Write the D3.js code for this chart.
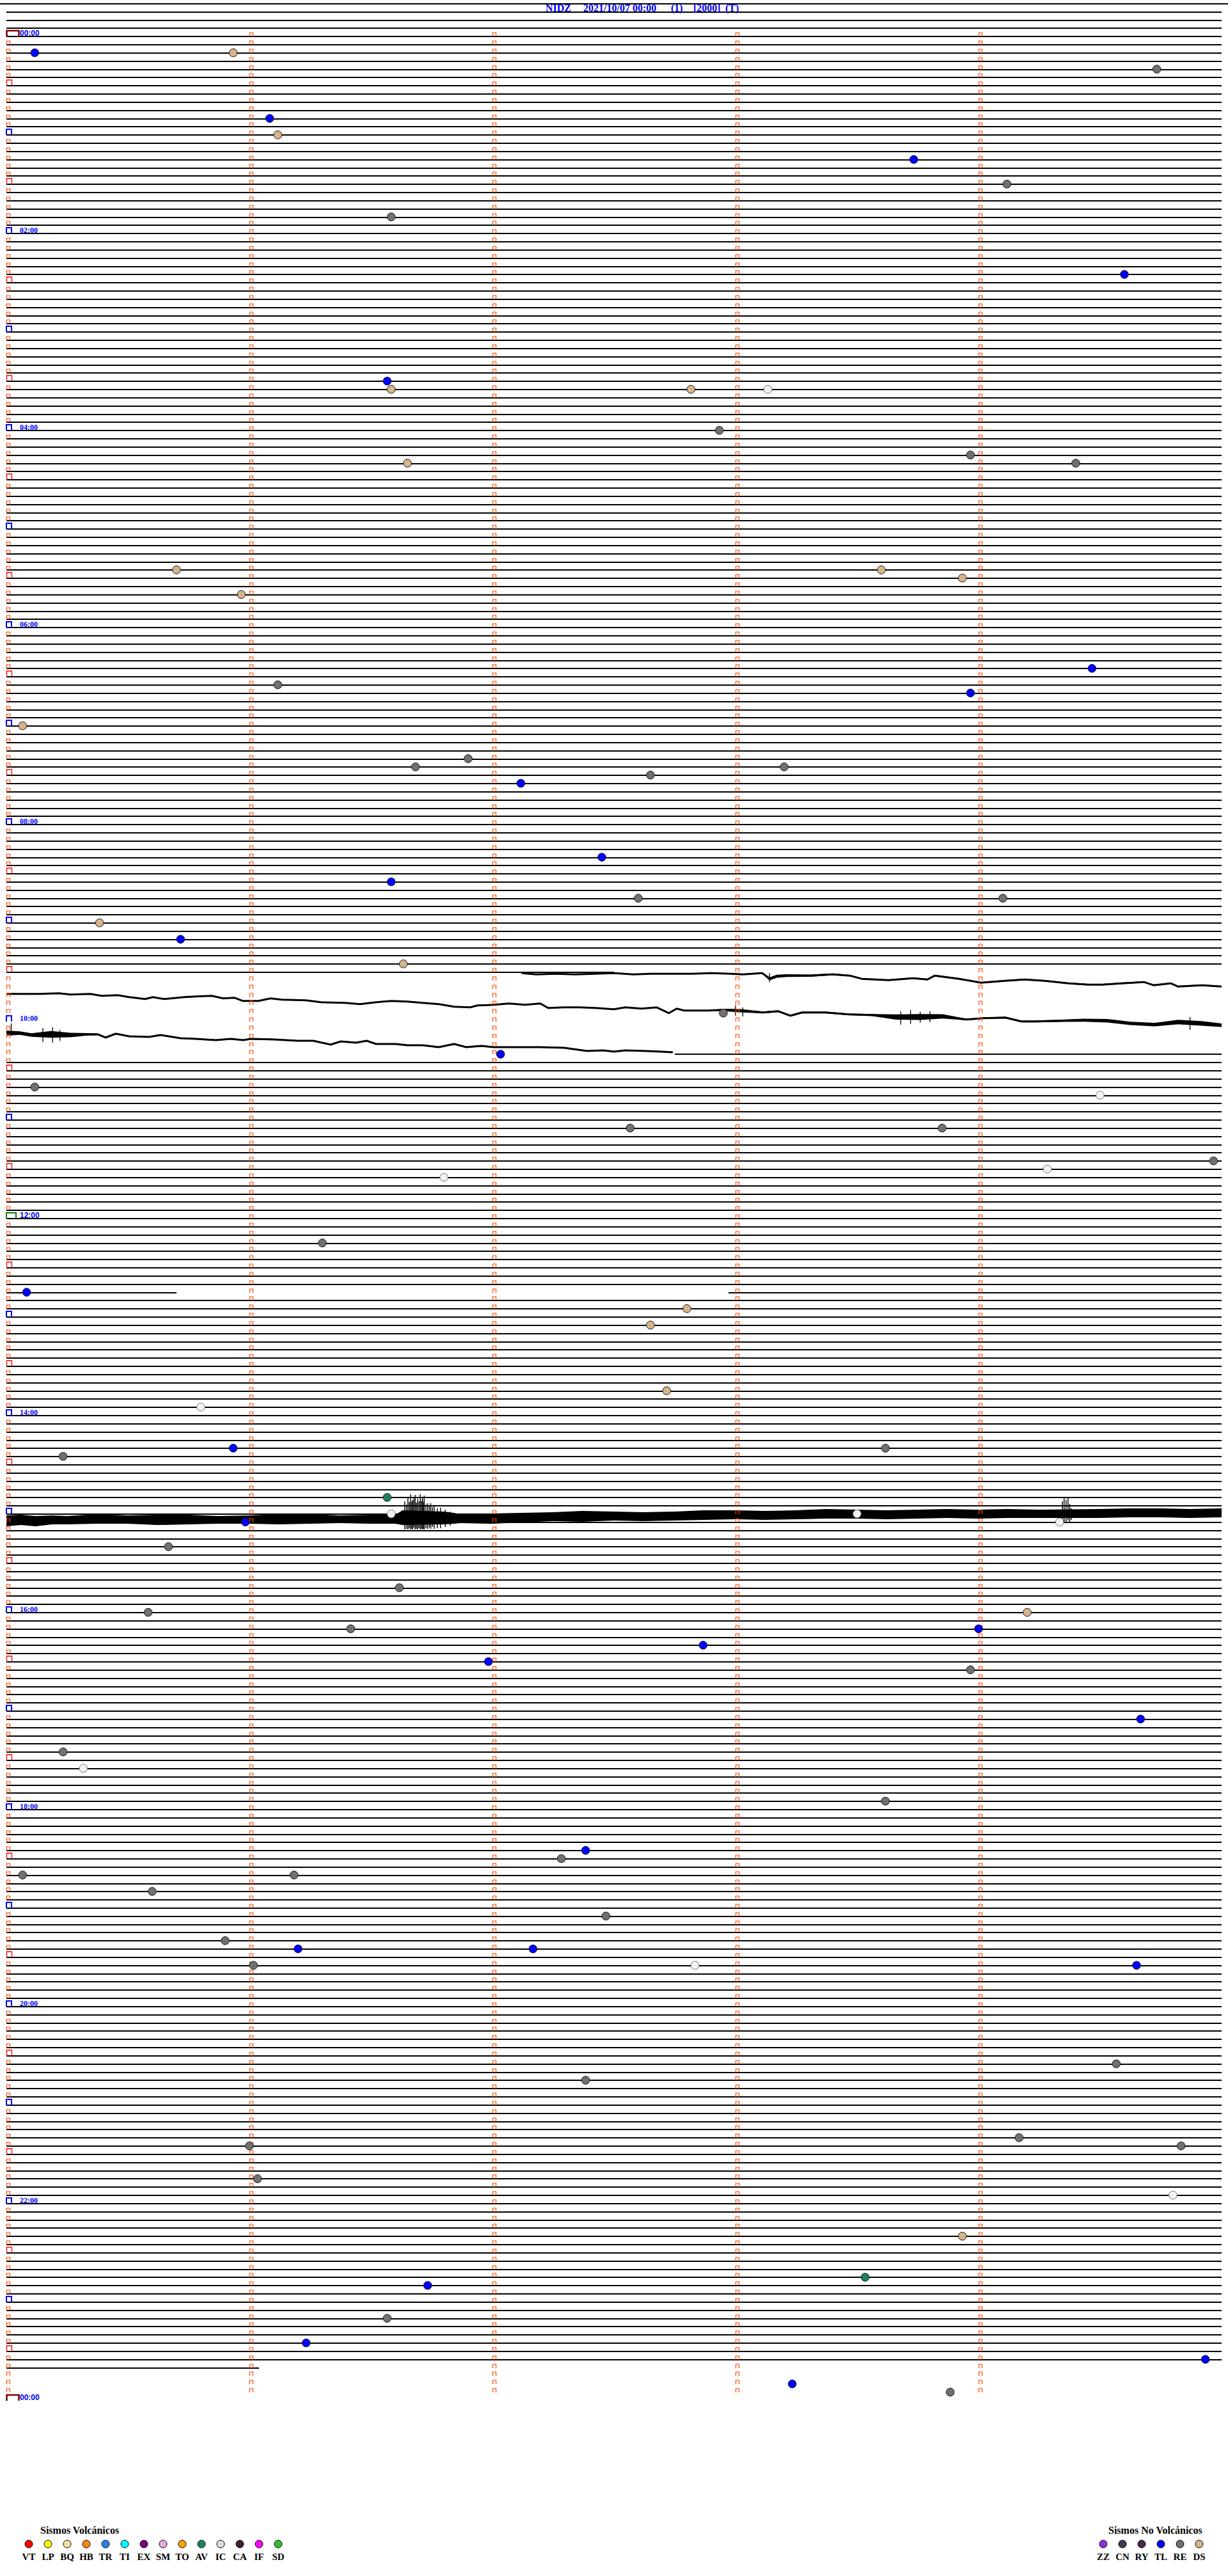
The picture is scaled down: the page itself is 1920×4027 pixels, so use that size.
<!DOCTYPE html>
<html>
<head>
<meta charset="utf-8">
<script src="https://cdnjs.cloudflare.com/ajax/libs/d3/7.8.5/d3.min.js"></script>
<style>
  body { margin: 0; background: #fff; }
  svg { display: block; }
</style>
</head>
<body>
<svg id="chart" width="1920" height="4027"></svg>
<script>
// ---- DATA ----
const titleParts = ["NIDZ", "2021/10/07 00:00", "(1)", "[2000]", "(T)"];

// rows of 5 minutes, first row drawn is 20 min before midnight
const FIRST_ROW = -20, LAST_ROW = 1420;
const hourLabels = ["00:00","02:00","04:00","06:00","08:00","10:00","12:00","14:00","16:00","18:00","20:00","22:00","00:00"];

// rows with no flat trace (signal drawn separately)
const silentRows = ["09:35","09:40","09:45","09:50","09:55","10:00","10:05","10:10","10:15"];
// rows with data only over part of the row: [row, from min, to min]
const partialRows = [["09:30",0,2.5],["10:20",2.75,5],["12:45",0,0.70],["12:45",2.97,5],["23:40",0,1.04]];

// noisy traces: centre [min, counts] and half width [min, counts]
const trace0930 = [[2.12,100],[2.18,300],[2.26,200],[2.34,300],[2.42,200],[2.50,100],[2.58,300],[2.66,200],[2.74,200],[2.82,200],[2.90,100],[2.98,200],[3.03,300],[3.11,100],[3.14,1000],[3.17,600],[3.21,500],[3.31,500],[3.40,300],[3.47,500],[3.52,1000],[3.63,1200],[3.73,900],[3.79,1100],[3.82,500],[3.92,1000],[4.01,1600],[4.11,1300],[4.19,1100],[4.27,1300],[4.37,1700],[4.45,1900],[4.51,1900],[4.59,1700],[4.68,1500],[4.72,2000],[4.79,1700],[4.82,2200],[4.92,2000],[5.00,2200]];
const width0930 = [[2.12,60],[3.1,80],[3.14,250],[3.3,180],[3.5,100],[5,120]];

const trace0940 = [[0,800],[0.134,800],[0.216,700],[0.263,900],[0.345,800],[0.392,1100],[0.458,1000],[0.505,1300],[0.571,1600],[0.603,1300],[0.650,1600],[0.732,1300],[0.779,1200],[0.845,1100],[0.892,1500],[0.939,1400],[0.974,1900],[1.037,1900],[1.087,1500],[1.134,1700],[1.232,1800],[1.295,2100],[1.392,2200],[1.455,2400],[1.521,2100],[1.584,1900],[1.650,2000],[1.713,2200],[1.779,2400],[1.842,2800],[1.908,2900],[1.939,2600],[2.005,2500],[2.068,2300],[2.134,2500],[2.197,2300],[2.229,3000],[2.295,2900],[2.358,2900],[2.424,3000],[2.500,3200],[2.547,2900],[2.613,3100],[2.676,2900],[2.726,3800],[2.758,3100],[2.789,3400],[2.887,3400],[2.950,3300],[3.016,3400],[3.113,3700],[3.176,3500],[3.226,4200],[3.274,3700],[3.371,3700],[3.466,4000],[3.563,4100],[3.661,4400],[3.758,4400],[3.853,4300],[3.950,4800],[4.016,4600],[4.111,4500],[4.176,5100],[4.239,5100],[4.337,5000],[4.434,4900],[4.532,5000],[4.626,5400],[4.724,5600],[4.821,5200],[4.918,5400],[5.0,5700]];
const width0940 = [[0,80],[2.9,80],[3.0,300],[3.06,150],[3.55,120],[3.62,350],[3.72,500],[3.85,350],[3.95,120],[4.3,150],[4.5,280],[4.7,250],[4.88,400],[5,280]];

const trace1005 = [[0,500],[0.055,500],[0.103,800],[0.184,700],[0.263,800],[0.329,700],[0.376,700],[0.408,1200],[0.450,600],[0.505,1000],[0.587,1100],[0.634,800],[0.716,1300],[0.779,1400],[0.861,1600],[0.924,1400],[0.974,1600],[1.005,1400],[1.103,1500],[1.197,1700],[1.263,1700],[1.334,2300],[1.376,1800],[1.439,2000],[1.482,1700],[1.521,2200],[1.600,2200],[1.650,2400],[1.713,2400],[1.779,2700],[1.842,2200],[1.892,2700],[1.955,2500],[2.005,2700],[2.100,2700],[2.197,2700],[2.295,2800],[2.389,3300],[2.455,3200],[2.500,3400],[2.547,3200],[2.629,3300],[2.692,3400],[2.742,3500]];
const width1005 = [[0,400],[0.05,300],[0.09,150],[0.12,450],[0.2,550],[0.26,350],[0.32,200],[0.45,100],[2.75,100]];

// short spikes on the noisy traces: [row, min, from counts, to counts]
const spikes0935 = [["09:40",3.00,2600,4200],["09:40",3.03,2900,4300],["09:40",3.68,3500,5600],["09:40",3.72,3300,5500],["09:40",3.76,3600,5300],["09:40",3.80,3500,5200],["09:40",4.87,4400,6400],["10:05",0.02,-1000,900],["10:05",0.15,-300,1900],["10:05",0.19,-400,2000],["10:05",0.22,0,1700],["09:30",3.14,100,1500]];

// 15:00 noisy band: [min, top counts, bottom counts]
const band1500 = [[0,200,1900],[0.06,100,1700],[0.12,300,1900],[0.19,200,1600],[0.25,300,1600],[0.37,0,1500],[0.5,200,1500],[0.62,100,1700],[0.75,100,1600],[0.87,300,1500],[1.0,200,1500],[1.12,0,1600],[1.25,0,1500],[1.37,200,1400],[1.5,100,1500],[1.6,100,1500],[1.63,-600,1700],[1.80,-400,1600],[1.84,-200,1500],[1.87,0,1400],[2.0,-100,1500],[2.12,-200,1300],[2.25,-300,1100],[2.37,-500,1200],[2.5,-400,1000],[2.62,-300,1100],[2.75,-400,1000],[2.87,-600,900],[3.0,-600,800],[3.12,-500,900],[3.25,-600,800],[3.37,-800,700],[3.5,-700,700],[3.62,-600,800],[3.75,-700,700],[3.87,-800,600],[4.0,-700,700],[4.12,-800,600],[4.25,-700,600],[4.5,-800,600],[4.62,-900,500],[4.75,-900,500],[4.87,-800,600],[5.0,-900,500]];
const spikes1500 = [[1.639,-2000,2400],[1.646,-1500,2300],[1.652,-2700,2400],[1.658,-1900,2200],[1.663,-3100,2400],[1.668,-2000,2300],[1.672,-2200,2400],[1.677,-2600,2100],[1.682,-3000,2400],[1.687,-1800,2300],[1.692,-2400,2400],[1.698,-2000,2200],[1.703,-3100,2400],[1.708,-2100,2300],[1.712,-2500,2400],[1.716,-1900,2300],[1.719,-2900,2400],[1.726,-1500,2200],[1.733,-1700,2300],[1.740,-1300,2100],[1.746,-1700,2300],[1.753,-1100,2000],[1.760,-1200,2300],[1.773,-900,2200],[1.786,-1000,2200],[1.806,-700,2000],[1.826,-400,1800],[4.345,-2000,1300],[4.352,-2600,1200],[4.360,-2200,1300],[4.368,-2600,1000],[4.375,-1600,1200],[4.382,-900,900]];

// classified events
const eventTimes = ["00:10:07","00:10:56","00:24:44","00:51:05","01:01:07","01:18:44","01:34:07","01:51:35","02:29:36","03:31:34","03:36:35","03:37:49","03:38:08","04:02:56","04:18:58","04:24:24","04:21:39","05:25:42","05:28:36","05:40:58","05:33:56","06:29:28","06:36:07","06:43:58","07:00:04","07:26:41","07:21:54","07:37:07","07:32:39","07:28:12","08:22:27","08:36:35","08:47:36","08:49:06","09:00:23","09:10:43","09:26:38","09:57:57","10:22:02","10:40:07","10:49:30","11:07:34","11:08:51","11:36:48","11:34:17","11:29:58","12:16:18","12:45:05","12:57:48","13:07:39","13:47:43","13:55:48","14:25:14","14:20:56","14:23:37","14:51:34","15:01:35","15:05:59","15:03:30","15:09:20","15:20:40","15:46:37","16:00:35","16:11:25","16:04:12","16:14:00","16:22:52","16:31:59","16:38:58","17:09:40","17:25:14","17:35:19","17:58:37","18:27:23","18:32:17","18:40:04","18:41:11","18:50:36","19:07:28","19:20:54","19:26:12","19:27:10","19:36:01","19:37:50","19:39:39","20:39:34","20:47:23","21:26:00","21:24:10","21:29:50","21:46:02","21:59:48","22:23:56","22:48:32","22:51:44","23:11:34","23:26:14","23:39:56","23:53:14","23:58:53"];
const eventKinds = ["TL","DS","RE","TL","DS","TL","RE","RE","TL","TL","DS","DS","IC","RE","RE","RE","DS","DS","DS","DS","DS","TL","RE","TL","DS","RE","RE","TL","RE","RE","TL","TL","RE","RE","DS","TL","DS","RE","TL","RE","IC","RE","RE","IC","IC","RE","RE","TL","DS","DS","DS","IC","RE","TL","RE","AV","IC","TL","IC","IC","RE","RE","RE","RE","DS","TL","TL","TL","RE","TL","RE","IC","RE","TL","RE","RE","RE","RE","RE","RE","TL","TL","RE","IC","TL","RE","RE","RE","RE","RE","RE","IC","DS","AV","TL","RE","TL","TL","TL","RE"];

// legends
const volcTitle = "Sismos Volcánicos";
const volcCodes = ["VT","LP","BQ","HB","TR","TI","EX","SM","TO","AV","IC","CA","IF","SD"];
const volcColors = ["#ff0000","#ffff00","#f2dfa6","#ff8410","#1e88f0","#00ffff","#820082","#e8a8e4","#ffa20a","#1f7f60","#dcdcdc","#42203e","#ff00ff","#30c030"];
const nonVolcTitle = "Sismos No Volcánicos";
const nonVolcCodes = ["ZZ","CN","RY","TL","RE","DS"];
const nonVolcColors = ["#9030d8","#473852","#4a2a4c","#0000ff","#707070","#d6b48a"];

// ---- LAYOUT ----
const W = 1920, LEFT = 10, RIGHT = 1910;
const ROW_H = 12.832, Y_MIDNIGHT = 57.3;

const svg = d3.select("#chart");
const x = d3.scaleLinear().domain([0, 5]).range([LEFT, RIGHT]);
const y = d3.scaleLinear().domain([0, 1440]).range([Y_MIDNIGHT, Y_MIDNIGHT + 288 * ROW_H]);
const amp = d3.scaleLinear().domain([0, 1283]).range([0, ROW_H]);

const toMin = (s) => {
  const p = s.split(":").map(Number);
  return p[0] * 60 + p[1] + (p[2] || 0) / 60;
};

const colorOf = {};
volcCodes.forEach((c, i) => colorOf[c] = volcColors[i]);
nonVolcCodes.forEach((c, i) => colorOf[c] = nonVolcColors[i]);

// ---- FLAT TRACES ----
var segs = [];
d3.range(FIRST_ROW + 5, LAST_ROW + 5, 5).forEach(t => {
  if (silentRows.some(r => toMin(r) === t)) return;
  var parts = partialRows.filter(p => toMin(p[0]) === t);
  if (parts.length) parts.forEach(p => segs.push([t, p[1], p[2]]));
  else segs.push([t, 0, 5]);
});

var lines = svg.append("g").attr("stroke", "#000").attr("stroke-width", 2)
  .attr("shape-rendering", "crispEdges");
lines.append("line")
  .attr("x1", 0).attr("x2", W)
  .attr("y1", Math.round(y(FIRST_ROW))).attr("y2", Math.round(y(FIRST_ROW)));
lines.selectAll("line.row")
  .data(segs)
  .enter().append("line")
    .attr("class", "row")
    .attr("x1", d => x(d[1])).attr("x2", d => x(d[2]))
    .attr("y1", d => Math.round(y(d[0]))).attr("y2", d => Math.round(y(d[0])));

// ---- NOISY TRACES ----
const drawTrace = (row, centre, widths) => {
  const base = y(toMin(row));
  const hw = d3.scaleLinear().domain(widths.map(d => d[0])).range(widths.map(d => d[1])).clamp(true);
  const area = d3.area()
    .x(d => x(d[0]))
    .y0(d => base + amp(d[1] - hw(d[0])))
    .y1(d => base + amp(d[1] + hw(d[0])));
  svg.append("path").datum(centre).attr("d", area).attr("fill", "#000");
  svg.append("path").datum(centre)
    .attr("d", d3.line().x(d => x(d[0])).y(d => base + amp(d[1])))
    .attr("fill", "none").attr("stroke", "#000").attr("stroke-width", 3)
    .attr("stroke-linejoin", "round");
};
drawTrace("09:30", trace0930, width0930);
drawTrace("09:40", trace0940, width0940);
drawTrace("10:05", trace1005, width1005);

svg.append("g").attr("stroke", "#000").attr("stroke-width", 1.3)
  .selectAll("line").data(spikes0935).enter().append("line")
    .attr("x1", d => x(d[1])).attr("x2", d => x(d[1]))
    .attr("y1", d => y(toMin(d[0])) + amp(d[2])).attr("y2", d => y(toMin(d[0])) + amp(d[3]));

var bandBase = y(toMin("15:00"));
svg.append("path").datum(band1500)
  .attr("d", d3.area().x(d => x(d[0])).y0(d => bandBase + amp(d[1])).y1(d => bandBase + amp(d[2])))
  .attr("fill", "#000");
svg.append("g").attr("stroke", "#000").attr("stroke-width", 1.4)
  .selectAll("line").data(spikes1500).enter().append("line")
    .attr("x1", d => x(d[0])).attr("x2", d => x(d[0]))
    .attr("y1", d => bandBase + amp(d[1])).attr("y2", d => bandBase + amp(d[2]));

// ---- TIME MARKERS ----
const cap = (x0, yb, w, h) => `M${x0},${yb}V${yb - h}H${x0 + w}V${yb}`;
var marks = svg.append("g").attr("fill", "none");
d3.range(0, LAST_ROW + 20, 5).forEach(t => {
  const yb = Math.round(y(t));
  [1, 2, 3, 4].forEach(m => {
    marks.append("path").attr("d", cap(Math.round(x(m)) + 0.5, yb, 5, 6))
      .attr("stroke", "#ff4500").attr("stroke-width", 1.2);
  });
  if (t === 0) return;
  var p = marks.append("path");
  if (t === 720) p.attr("d", cap(10, yb, 15, 9)).attr("stroke", "#008000").attr("stroke-width", 2);
  else if (t % 60 === 0) p.attr("d", cap(10, yb, 8, 9)).attr("stroke", "#0000ff").attr("stroke-width", 2);
  else if (t % 30 === 0) p.attr("d", cap(10.5, yb, 8, 9)).attr("stroke", "#ff0000").attr("stroke-width", 1.3);
  else p.attr("d", cap(10.5, yb, 5, 6)).attr("stroke", "#ff4500").attr("stroke-width", 1.2);
});
[0, 1440].forEach(t => {
  marks.append("path").attr("d", cap(10.5, Math.round(y(t)), 19, 9))
    .attr("stroke", "#800000").attr("stroke-width", 2.6);
});

// ---- EVENTS ----
svg.append("g").selectAll("circle")
  .data(eventTimes.map((t, i) => ({ t: toMin(t), k: eventKinds[i] })))
  .enter().append("circle")
    .attr("cx", d => x(d.t - Math.floor(d.t / 5) * 5))
    .attr("cy", d => y(Math.floor(d.t / 5) * 5) - 0.5)
    .attr("r", 6.3)
    .attr("fill", d => d.k === "IC" ? "#f2f2f2" : colorOf[d.k])
    .attr("stroke", d => d.k === "IC" ? "#777" : "#1a1a1a")
    .attr("stroke-width", 1);

// ---- HOUR LABELS ----
svg.append("g").selectAll("text")
  .data(hourLabels)
  .enter().append("text")
    .attr("x", 31)
    .attr("y", (d, i) => y(i * 120) - 1)
    .attr("fill", "#0000ff")
    .style("font", (d, i) => (i % 6 === 0 ? "bold 12px 'Liberation Sans'" : "bold 12px 'Liberation Serif'"))
    .text(d => d);

// ---- TITLE ----
const titleX = [853, 912, 1049, 1084, 1134];
svg.append("g").selectAll("text")
  .data(titleParts)
  .enter().append("text")
    .attr("x", (d, i) => titleX[i])
    .attr("y", 18)
    .attr("fill", "#0000ff")
    .style("font", "bold 16px 'Liberation Serif'")
    .text(d => d);

// ---- LEGENDS ----
const legend = (codes, colors, title, x0, tx) => {
  var g = svg.append("g").style("font", "bold 15px 'Liberation Serif'");
  g.append("text").attr("x", tx).attr("y", 3961).style("font-size", "16px").text(title);
  codes.forEach((c, i) => {
    g.append("circle").attr("cx", x0 + i * 30).attr("cy", 3977).attr("r", 6)
      .attr("fill", colors[i]).attr("stroke", "#000").attr("stroke-width", 1);
    g.append("text").attr("x", x0 + i * 30).attr("y", 4002)
      .attr("text-anchor", "middle").text(c);
  });
};
legend(volcCodes, volcColors, volcTitle, 45, 63);
legend(nonVolcCodes, nonVolcColors, nonVolcTitle, 1725, 1733);
</script>
</body>
</html>
